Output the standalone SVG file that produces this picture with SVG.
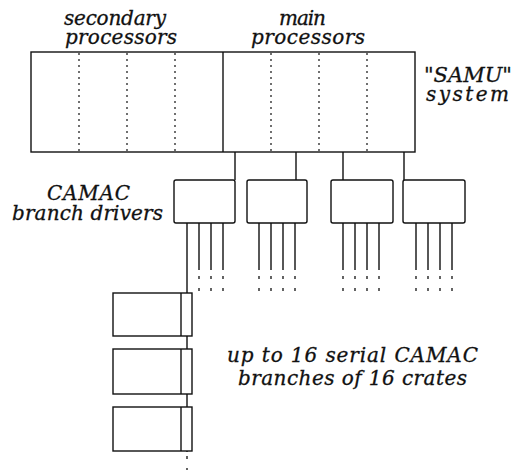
<svg xmlns="http://www.w3.org/2000/svg" width="520" height="472" viewBox="0 0 520 472">
<style>
.t{font-family:"DejaVu Serif","Liberation Serif",serif;font-style:italic;font-size:20px;fill:#111;stroke:#111;stroke-width:0.3}
.s{fill:none;stroke:#111;stroke-width:1.4}
.d{fill:none;stroke:#111;stroke-width:1.2;stroke-dasharray:2 4}
.dd{fill:none;stroke:#111;stroke-width:1.3;stroke-dasharray:3 9}
.box{fill:#fff;stroke:#111;stroke-width:1.4}
</style>
<rect width="520" height="472" fill="#fff"/>
<g id="labels">
<text class="t" x="64" y="25" textLength="102" lengthAdjust="spacing">secondary</text>
<text class="t" x="65" y="44" textLength="112" lengthAdjust="spacing">processors</text>
<text class="t" x="279" y="25" textLength="47" lengthAdjust="spacing">main</text>
<text class="t" x="251" y="44" textLength="114" lengthAdjust="spacing">processors</text>
<text class="t" x="468" y="82" text-anchor="middle" style="font-size:21px">"SAMU"</text>
<text class="t" x="426" y="101" textLength="83" lengthAdjust="spacing">system</text>
<text class="t" x="47" y="200" textLength="83" lengthAdjust="spacing">CAMAC</text>
<text class="t" x="12" y="220" textLength="151" lengthAdjust="spacing">branch drivers</text>
<text class="t" x="227" y="362" textLength="251" lengthAdjust="spacing">up to 16 serial CAMAC</text>
<text class="t" x="238" y="385" textLength="229" lengthAdjust="spacing">branches of 16 crates</text>
</g>
<g id="samu">
<rect class="box" x="31" y="52" width="384" height="100"/>
<path class="d" d="M79 53V151M127 53V151M175 53V151M271 53V151M319 53V151M367 53V151"/>
<path class="s" d="M223 52V152"/>
</g>
<g id="connectors">
<path class="s" d="M235 152V180M296 152V180M343 152V180M404 152V180"/>
<path class="s" d="M187 223V465M199 223V270M211 223V270M223 223V270"/>
<path class="s" d="M259 223V270M271 223V270M283 223V270M295 223V270"/>
<path class="s" d="M343 223V270M355 223V270M367 223V270M379 223V270"/>
<path class="s" d="M416 223V270M428 223V270M440 223V270M452 223V270"/>
<path class="dd" d="M199 276V294M211 276V294M223 276V294M259 276V294M271 276V294M283 276V294M295 276V294M343 276V294M355 276V294M367 276V294M379 276V294M416 276V294M428 276V294M440 276V294M452 276V294"/>
</g>
<g id="driver1"><rect class="box" x="174" y="180" width="61" height="43" rx="2"/></g>
<g id="driver2"><rect class="box" x="247" y="180" width="60" height="43" rx="2"/></g>
<g id="driver3"><rect class="box" x="331" y="180" width="62" height="43" rx="2"/></g>
<g id="driver4"><rect class="box" x="403" y="180" width="62" height="43" rx="2"/></g>
<g id="crate1"><rect class="box" x="113" y="293" width="79" height="43"/><path class="s" d="M181 293V336"/></g>
<g id="crate2"><rect class="box" x="113" y="349" width="79" height="45"/><path class="s" d="M181 349V394"/></g>
<g id="crate3"><rect class="box" x="113" y="407" width="79" height="44"/><path class="s" d="M181 407V451"/></g>
<g id="tail"><rect x="180" y="452" width="10" height="20" fill="#fff"/><path class="dd" d="M187 456V470"/></g>
</svg>
